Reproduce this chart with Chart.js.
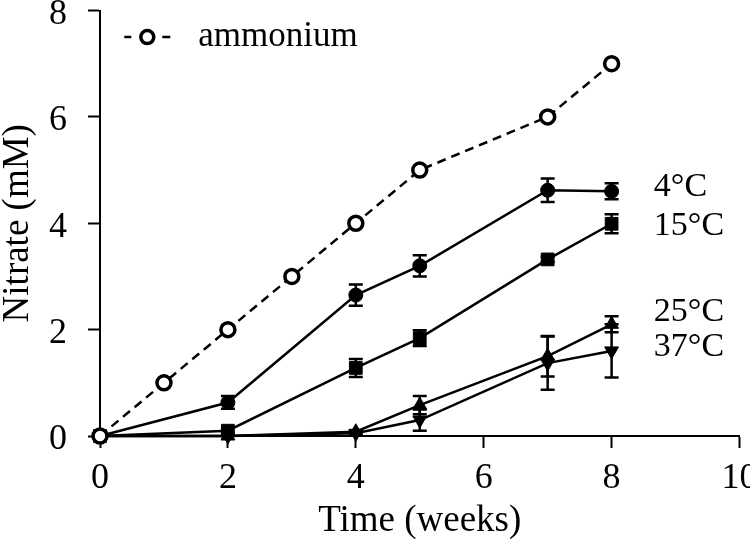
<!DOCTYPE html>
<html><head><meta charset="utf-8">
<script src="https://cdn.jsdelivr.net/npm/chart.js@4/dist/chart.umd.min.js"></script>
<style>html,body{margin:0;padding:0;background:#fff}#wrap{width:750px;height:544px;position:relative}</style>
</head><body><div id="wrap"><canvas id="c" width="750" height="544"></canvas></div>
<script>
// ---- data ----
const weeks = [0, 2, 4, 5, 7, 8];
const ammoniumWeeks = [0, 1, 2, 3, 4, 5, 7, 8];
const ammonium = [0, 1, 2, 3, 4, 5, 6, 7];
const nitrate4C  = [0, 0.63, 2.65, 3.20, 4.62, 4.60];
const err4C      = [0, 0.12, 0.20, 0.20, 0.22, 0.15];
const nitrate15C = [0, 0.10, 1.28, 1.84, 3.32, 3.99];
const err15C     = [0, 0.05, 0.17, 0.15, 0.05, 0.18];
const nitrate25C = [0, 0.00, 0.08, 0.58, 1.50, 2.10];
const err25C     = [0, 0.00, 0.03, 0.17, 0.38, 0.15];
const nitrate37C = [0, 0.00, 0.05, 0.30, 1.37, 1.60];
const err37C     = [0, 0.00, 0.03, 0.20, 0.50, 0.50];
const seriesNames = ['4°C', '15°C', '25°C', '37°C'];
const ammoniumName = 'ammonium';
const xTitle = 'Time (weeks)';
const yTitle = 'Nitrate (mM)';

const FONT = "'Liberation Serif', 'Times New Roman', serif";
const pts = (xs, ys) => xs.map((x, i) => ({x, y: ys[i]}));

const base = {borderColor: '#000', borderWidth: 2.5, tension: 0, clip: false,
  pointBorderColor: '#000', pointBackgroundColor: '#000', pointBorderWidth: 1, fill: false};

const datasets = [
  Object.assign({}, base, {label: ammoniumName, data: pts(ammoniumWeeks, ammonium), borderDash: [9, 6],
    pointStyle: 'circle', pointRadius: 7, pointBorderWidth: 3.5, pointBackgroundColor: '#fff'}),
  Object.assign({}, base, {label: seriesNames[0], data: pts(weeks, nitrate4C), errors: err4C, pointStyle: 'circle', pointRadius: 7}),
  Object.assign({}, base, {label: seriesNames[1], data: pts(weeks, nitrate15C), errors: err15C, pointStyle: 'rect', pointRadius: 9}),
  Object.assign({}, base, {label: seriesNames[2], data: pts(weeks, nitrate25C), errors: err25C, pointStyle: 'triangle', pointRadius: 8}),
  Object.assign({}, base, {label: seriesNames[3], data: pts(weeks, nitrate37C), errors: err37C, pointStyle: 'triangle', pointRotation: 180, pointRadius: 8})
];

const errorBars = {
  id: 'errorBars',
  beforeDatasetsDraw(chart) {
    const {ctx, scales: {x, y}} = chart;
    ctx.save();
    ctx.strokeStyle = '#000'; ctx.lineWidth = 2.5;
    chart.data.datasets.forEach(ds => {
      if (!ds.errors) return;
      ds.data.forEach((p, i) => {
        const e = ds.errors[i];
        if (!e) return;
        const px = x.getPixelForValue(p.x);
        const top = y.getPixelForValue(p.y + e), bot = y.getPixelForValue(p.y - e);
        ctx.beginPath();
        ctx.moveTo(px, top); ctx.lineTo(px, bot);
        ctx.moveTo(px - 7, top); ctx.lineTo(px + 7, top);
        ctx.moveTo(px - 7, bot); ctx.lineTo(px + 7, bot);
        ctx.stroke();
      });
    });
    ctx.restore();
  }
};

const labels = {
  id: 'seriesLabels',
  afterDatasetsDraw(chart, args, opts) {
    const {ctx, scales: {x, y}} = chart;
    ctx.save();
    ctx.fillStyle = '#000';
    ctx.textBaseline = 'middle';
    ctx.textAlign = 'left';
    ctx.font = opts.size + 'px ' + FONT;
    opts.anchors.forEach((a, i) => {
      ctx.fillText(seriesNames[i], x.getPixelForValue(a[0]), y.getPixelForValue(a[1]));
    });
    // inline legend for ammonium
    const ds = chart.data.datasets[0];
    const lx = x.getPixelForValue(opts.legend[0]), ly = y.getPixelForValue(opts.legend[1]);
    ctx.strokeStyle = ds.borderColor; ctx.lineWidth = 2.5;
    ctx.beginPath();
    ctx.moveTo(lx, ly); ctx.lineTo(lx + 7, ly);
    ctx.moveTo(lx + 38, ly); ctx.lineTo(lx + 46, ly);
    ctx.stroke();
    ctx.beginPath(); ctx.arc(lx + 23, ly, 6.5, 0, Math.PI * 2);
    ctx.fillStyle = '#fff'; ctx.fill(); ctx.lineWidth = 3.5; ctx.stroke();
    ctx.fillStyle = '#000';
    ctx.font = opts.legendSize + 'px ' + FONT;
    ctx.fillText(ammoniumName, lx + 74, ly);
    ctx.restore();
  }
};

new Chart(document.getElementById('c'), {
  type: 'line',
  data: {datasets},
  plugins: [errorBars, labels],
  options: {
    responsive: false,
    animation: false,
    devicePixelRatio: 1,
    layout: {padding: {left: 0, right: 7, top: 10, bottom: 0}},
    plugins: {
      legend: {display: false},
      tooltip: {enabled: false},
      seriesLabels: {size: 34, legendSize: 35,
        anchors: [[8.66, 4.68], [8.66, 3.94], [8.66, 2.33], [8.66, 1.67]],
        legend: [0.38, 7.5]}
    },
    scales: {
      x: {
        type: 'linear', min: 0, max: 10,
        ticks: {stepSize: 2, color: '#000', font: {family: FONT, size: 36}, padding: 9, maxRotation: 0},
        grid: {drawOnChartArea: false, drawTicks: true, tickLength: 12, tickWidth: 2, tickColor: '#000'},
        border: {color: '#000', width: 2},
        title: {display: true, text: xTitle, color: '#000', font: {family: FONT, size: 37, lineHeight: 1}, padding: {top: 0, bottom: 4}},
        afterFit(s) { s.height = 108; s.paddingLeft = 0; s.paddingRight = 0; }
      },
      y: {
        type: 'linear', min: 0, max: 8,
        ticks: {stepSize: 2, color: '#000', font: {family: FONT, size: 36}, padding: 21, labelOffset: 4},
        grid: {drawOnChartArea: false, drawTicks: true, tickLength: 12, tickWidth: 2, tickColor: '#000'},
        border: {color: '#000', width: 2},
        title: {display: true, text: yTitle, color: '#000', font: {family: FONT, size: 37, lineHeight: 1}, padding: {top: 0, bottom: 0}},
        afterFit(s) { s.width = 100; s.paddingTop = 0; s.paddingBottom = 0; }
      }
    }
  }
});
</script>
</body></html>
